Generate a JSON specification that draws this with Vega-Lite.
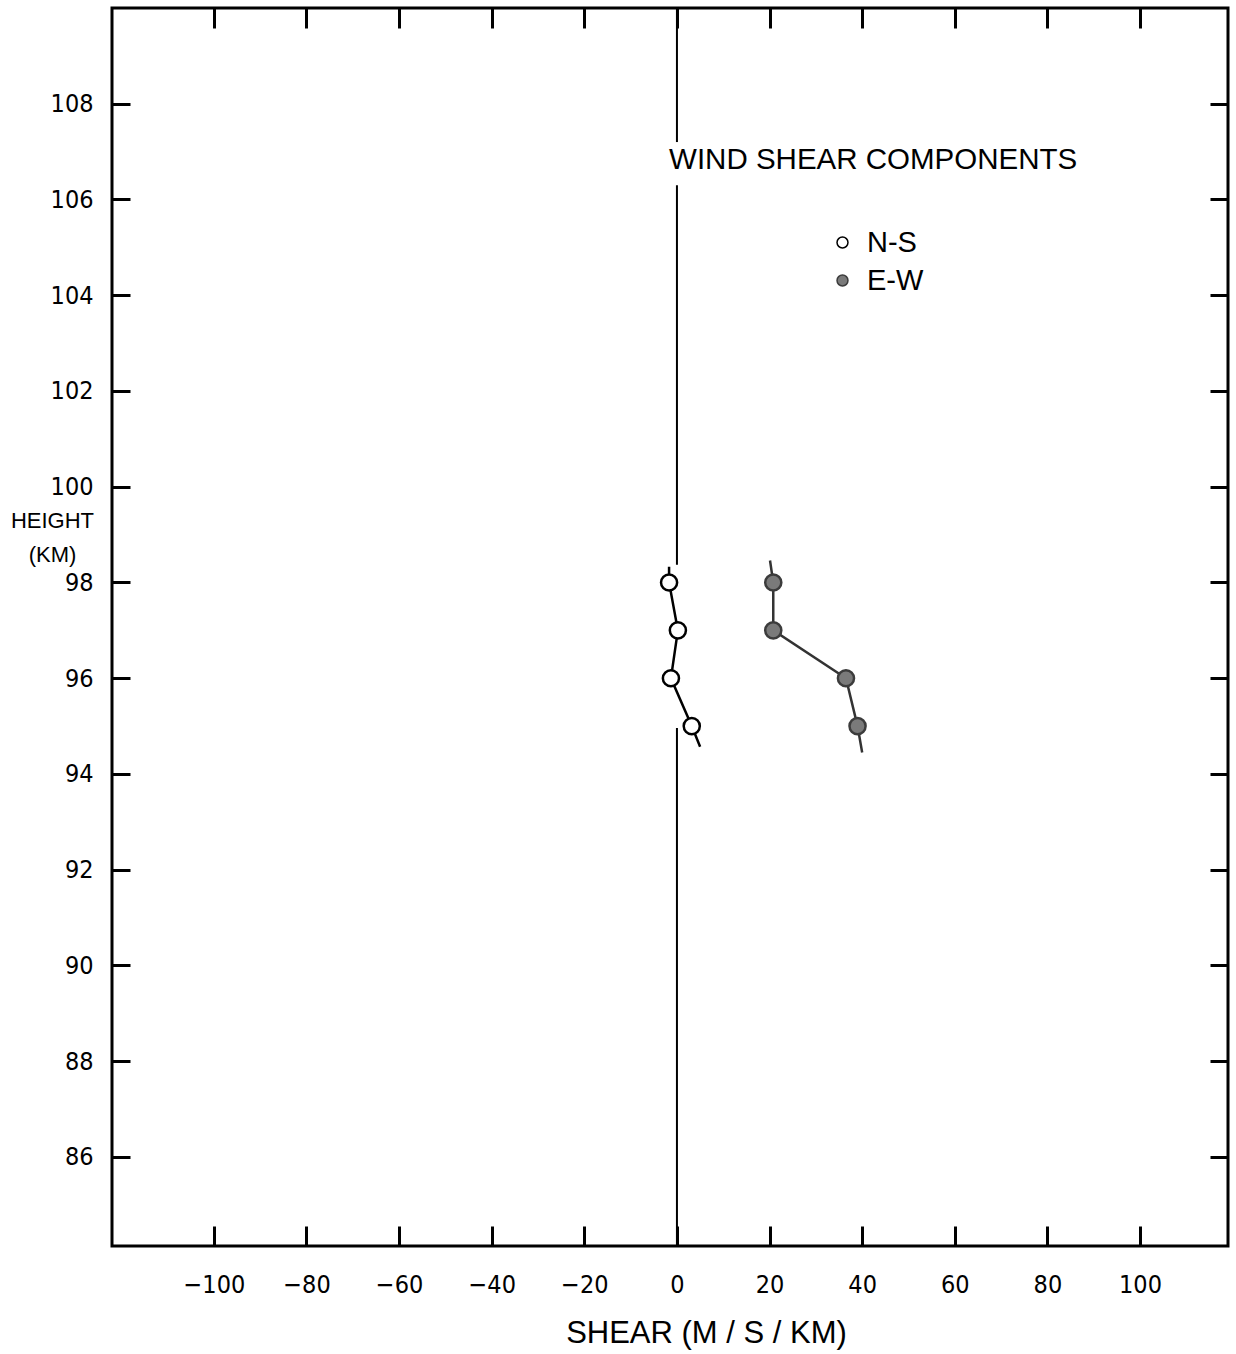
{
  "$schema": "https://vega.github.io/schema/vega-lite/v6.json",
  "width": 1116,
  "height": 1238,
  "autosize": {"type": "none"},
  "padding": {"left": 112, "top": 8, "right": 8, "bottom": 108},
  "background": "white",
  "datasets": {
    "shear": [
      {"series": "N-S", "x": -1.7, "y": 98.33, "marker": false},
      {"series": "N-S", "x": -1.7, "y": 98, "marker": true},
      {"series": "N-S", "x": 0.2, "y": 97, "marker": true},
      {"series": "N-S", "x": -1.3, "y": 96, "marker": true},
      {"series": "N-S", "x": 3.2, "y": 95, "marker": true},
      {"series": "N-S", "x": 5.0, "y": 94.57, "marker": false},
      {"series": "E-W", "x": 20.1, "y": 98.46, "marker": false},
      {"series": "E-W", "x": 20.8, "y": 98, "marker": true},
      {"series": "E-W", "x": 20.8, "y": 97, "marker": true},
      {"series": "E-W", "x": 36.5, "y": 96, "marker": true},
      {"series": "E-W", "x": 39.0, "y": 95, "marker": true},
      {"series": "E-W", "x": 40.0, "y": 94.45, "marker": false}
    ],
    "zeroline": [
      {"x": 0, "y": 110.0, "y2": 107.2},
      {"x": 0, "y": 106.3, "y2": 98.37},
      {"x": 0, "y": 94.96, "y2": 84.14}
    ],
    "heading": [
      {"label": "WIND SHEAR COMPONENTS", "x": -1.7, "y": 106.83}
    ]
  },
  "layer": [
    {
      "data": {"name": "zeroline"},
      "mark": {"type": "rule", "color": "black", "strokeWidth": 2},
      "encoding": {
        "x": {
          "field": "x", "type": "quantitative",
          "scale": {"domain": [-122, 119], "nice": false, "zero": false},
          "axis": {"orient": "top", "values": [-100, -80, -60, -40, -20, 0, 20, 40, 60, 80, 100], "labels": false, "title": null, "tickSize": -20, "tickWidth": 3, "tickColor": "black", "domain": false, "grid": false}
        },
        "y": {
          "field": "y", "type": "quantitative",
          "scale": {"domain": [84.14, 110.0], "nice": false, "zero": false},
          "axis": {"orient": "right", "values": [86, 88, 90, 92, 94, 96, 98, 100, 102, 104, 106, 108], "labels": false, "title": null, "tickSize": -18, "tickWidth": 3, "tickColor": "black", "domain": false, "grid": false}
        },
        "y2": {"field": "y2"}
      }
    },
    {
      "data": {"name": "shear"},
      "transform": [{"filter": "datum.series === 'N-S'"}],
      "mark": {"type": "line", "color": "black", "strokeWidth": 2.5},
      "encoding": {
        "x": {"field": "x", "type": "quantitative", "axis": null},
        "y": {"field": "y", "type": "quantitative", "axis": null},
        "order": {"field": "y", "type": "quantitative"}
      }
    },
    {
      "data": {"name": "shear"},
      "transform": [{"filter": "datum.series === 'E-W'"}],
      "mark": {"type": "line", "color": "#333333", "strokeWidth": 2.5},
      "encoding": {
        "x": {"field": "x", "type": "quantitative", "axis": null},
        "y": {"field": "y", "type": "quantitative", "axis": null},
        "order": {"field": "y", "type": "quantitative"}
      }
    },
    {
      "data": {"name": "shear"},
      "transform": [{"filter": "datum.marker"}],
      "mark": {"type": "point", "shape": "circle", "size": 260, "strokeWidth": 2.5, "opacity": 1, "filled": false},
      "encoding": {
        "x": {
          "field": "x", "type": "quantitative",
          "axis": {"orient": "bottom", "values": [-100, -80, -60, -40, -20, 0, 20, 40, 60, 80, 100], "tickSize": -20, "tickWidth": 3, "tickColor": "black", "domain": false, "grid": false, "labelPadding": 46, "labelFont": "DejaVu Sans Condensed, Liberation Sans Narrow, sans-serif", "labelFontSize": 25, "labelColor": "black", "labelBaseline": "top", "labelFlush": false, "title": "SHEAR (M / S / KM)", "titleFont": "Liberation Sans, sans-serif", "titleFontSize": 31, "titleFontWeight": "normal", "titleColor": "black", "titleAnchor": "start", "titleAlign": "center", "titleX": 594, "titleY": 96, "titleBaseline": "alphabetic"}
        },
        "y": {
          "field": "y", "type": "quantitative",
          "axis": {"orient": "left", "values": [86, 88, 90, 92, 94, 96, 98, 100, 102, 104, 106, 108], "tickSize": -18, "tickWidth": 3, "tickColor": "black", "domain": false, "grid": false, "labelPadding": 37, "labelFont": "DejaVu Sans Condensed, Liberation Sans Narrow, sans-serif", "labelFontSize": 25, "labelColor": "black", "labelFlush": false, "title": ["HEIGHT", "(KM)"], "titleFont": "Liberation Sans, sans-serif", "titleFontSize": 22, "titleFontWeight": "normal", "titleColor": "black", "titleAngle": 0, "titleAlign": "center", "titleAnchor": "start", "titleBaseline": "top", "titleX": -60, "titleY": 502, "titleLineHeight": 34}
        },
        "fill": {
          "field": "series", "type": "nominal",
          "scale": {"domain": ["N-S", "E-W"], "range": ["#ffffff", "#7a7a7a"]},
          "legend": {"title": null, "orient": "none", "legendX": 716, "legendY": 220}
        },
        "stroke": {
          "field": "series", "type": "nominal",
          "scale": {"domain": ["N-S", "E-W"], "range": ["#000000", "#3c3c3c"]},
          "legend": {"title": null, "orient": "none", "legendX": 716, "legendY": 220}
        }
      }
    },
    {
      "data": {"name": "heading"},
      "mark": {"type": "text", "align": "left", "baseline": "middle", "font": "Liberation Sans, sans-serif", "fontSize": 29.5, "color": "black"},
      "encoding": {
        "x": {"field": "x", "type": "quantitative", "axis": null},
        "y": {"field": "y", "type": "quantitative", "axis": null},
        "text": {"field": "label"}
      }
    }
  ],
  "resolve": {"axis": {"x": "independent", "y": "independent"}},
  "config": {
    "view": {"stroke": "black", "strokeWidth": 3},
    "legend": {
      "padding": 0,
      "symbolType": "circle",
      "symbolSize": 120,
      "symbolStrokeWidth": 1.5,
      "labelFont": "Liberation Sans, sans-serif",
      "labelFontSize": 29,
      "labelColor": "black",
      "labelOffset": 10,
      "rowPadding": 8
    }
  }
}
